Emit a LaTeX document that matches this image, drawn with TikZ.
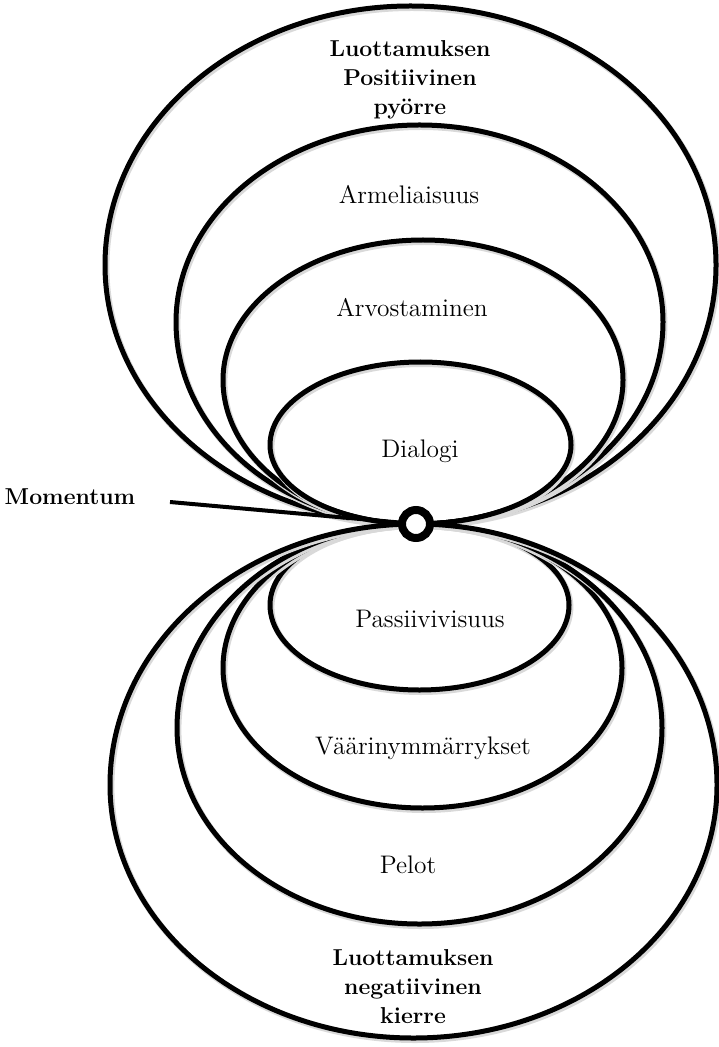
\documentclass[tikz,border=0pt]{standalone}
\usetikzlibrary{positioning}
\tikzset{
  lobe/.style = {line width=2.5pt, draw=black,
                 preaction={draw=black!15, line width=3pt,
                            transform canvas={xshift=0.7pt, yshift=-1pt}}},
  lbl/.style  = {font=\fontsize{12.7}{15}\selectfont, align=center},
  blbl/.style = {font=\fontsize{11.5}{14.5}\selectfont\bfseries, align=center},
  hub/.style  = {circle, draw=black, line width=4pt, fill=white,
                 inner sep=0pt, minimum size=14pt},
}
\def\hx{416}
\def\hy{524}

\begin{document}
\begin{tikzpicture}[x=0.5pt, y=-0.5pt]
\useasboundingbox (0,0) rectangle (718,1047);

%% upper lobes: left x / right x / top y / widest y
\foreach \lx/\rx/\ty/\wy in {105/716/6/265, 176/663/125/322,
                             223/623/240/380, 270/571/362/445} {
  \pgfmathsetmacro\cx{(\lx+\rx)/2}
  \draw[lobe] (\hx,\hy)
    .. controls ({\hx-0.552*(\hx-\lx)},\hy) and (\lx,{\wy+0.552*(\hy-\wy)}) .. (\lx,\wy)
    .. controls (\lx,{\wy-0.552*(\wy-\ty)}) and ({\cx-0.552*(\cx-\lx)},\ty) .. (\cx,\ty)
    .. controls ({\cx+0.552*(\rx-\cx)},\ty) and (\rx,{\wy-0.552*(\wy-\ty)}) .. (\rx,\wy)
    .. controls (\rx,{\wy+0.552*(\hy-\wy)}) and ({\hx+0.552*(\rx-\hx)},\hy) .. (\hx,\hy);
}

%% lower lobes: left x / right x / bottom y / widest y
\foreach \lx/\rx/\by/\wy in {270/569/690/605, 223/622/808/668,
                             177/662/924/728, 110/717/1038/785} {
  \pgfmathsetmacro\cx{(\lx+\rx)/2}
  \draw[lobe] (\hx,\hy)
    .. controls ({\hx-0.552*(\hx-\lx)},\hy) and (\lx,{\wy-0.552*(\wy-\hy)}) .. (\lx,\wy)
    .. controls (\lx,{\wy+0.552*(\by-\wy)}) and ({\cx-0.552*(\cx-\lx)},\by) .. (\cx,\by)
    .. controls ({\cx+0.552*(\rx-\cx)},\by) and (\rx,{\wy+0.552*(\by-\wy)}) .. (\rx,\wy)
    .. controls (\rx,{\wy-0.552*(\wy-\hy)}) and ({\hx+0.552*(\rx-\hx)},\hy) .. (\hx,\hy);
}

%% momentum
\node[blbl] (mom) at (70,497) {Momentum};
\coordinate (momtail) at (170,502);
\draw[line width=2pt] (momtail) -- (\hx,\hy);
\node[hub] (hub) at (\hx,\hy) {};

%% labels
\node[blbl] (pos)   at (410,80)  {Luottamuksen\\Positiivinen\\pyörre};
\node[lbl]  (arm)   at (409,195) {Armeliaisuus};
\node[lbl]  (arv)   at (412,308) {Arvostaminen};
\node[lbl]  (dia)   at (420,451) {Dialogi};
\node[lbl]  (pas)   at (430,619) {Passiivivisuus};
\node[lbl]  (vaa)   at (423,748) {Väärinymmärrykset};
\node[lbl]  (pel)   at (408,865) {Pelot};
\node[blbl] (neg)   at (413,987) {Luottamuksen\\negatiivinen\\kierre};

\end{tikzpicture}
\end{document}
